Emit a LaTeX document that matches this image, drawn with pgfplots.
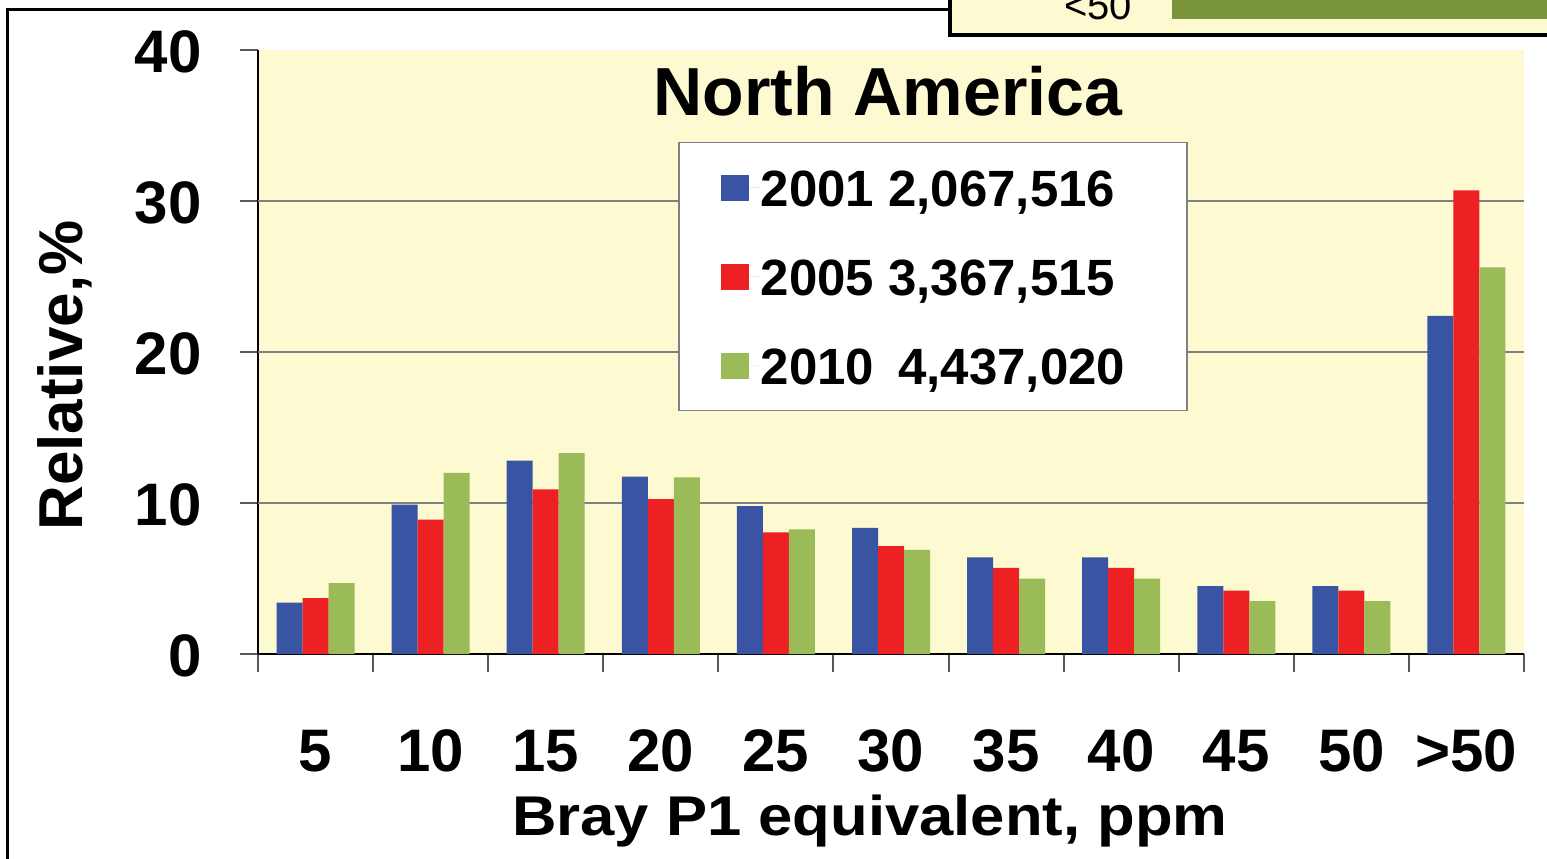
\documentclass[border=0pt]{standalone}
\usepackage{fontspec}
\setmainfont{Liberation Sans}
\newfontfamily\xlfont[FakeStretch=1.1]{Liberation Sans}
\usepackage{pgfplots}
\pgfplotsset{compat=1.18}
\definecolor{cblue}{HTML}{3A54A4}
\definecolor{cred}{HTML}{ED2024}
\definecolor{cgreen}{HTML}{9BBB59}
\definecolor{bgyellow}{HTML}{FDF9D0}
\definecolor{olivebar}{HTML}{7A943C}
\begin{document}
\begin{tikzpicture}
\path[use as bounding box] (0,0) rectangle (773.5pt,429pt);
\begin{scope}
\clip (0,0) rectangle (773.5pt,429pt);
\fill[bgyellow] (475pt,411.5pt) rectangle (773.5pt,429pt);
\fill[olivebar] (586pt,419.5pt) rectangle (773.5pt,429pt);
\node[anchor=base, font=\fontsize{20}{20}\selectfont, inner sep=0pt] at (549pt,419pt) {<50};
\draw[line width=2pt] (475pt,430pt) -- (475pt,411.5pt) -- (774pt,411.5pt);
\draw[line width=1.5pt] (3.5pt,-1pt) -- (3.5pt,424pt) -- (475pt,424pt);
\end{scope}
\begin{axis}[
  at={(129pt,102pt)}, anchor=south west,
  scale only axis, width=633pt, height=302pt,
  xmin=0, xmax=11, ymin=0, ymax=40,
  enlargelimits=false,
  axis background/.style={fill=bgyellow},
  axis x line*=bottom, axis y line*=left,
  axis line style={black, line width=1pt},
  tick align=outside,
  major tick length=9pt,
  tick style={gray!70!black, line width=1pt},
  xtick={0,1,...,11}, xticklabels={},
  extra x ticks={0.5,1.5,2.5,3.5,4.5,5.5,6.5,7.5,8.5,9.5,10.5},
  extra x tick labels={5,10,15,20,25,30,35,40,45,50,>50},
  extra x tick style={major tick length=0pt},
  ytick={0,10,20,30,40},
  extra y ticks={10,20,30}, extra y tick labels={},
  extra y tick style={ymajorgrids=true, major tick length=0pt},
  grid style={gray, line width=1pt},
  /pgf/number format/assume math mode=true,
  ticklabel style={font=\fontsize{30}{30}\selectfont\bfseries, inner sep=0pt},
  xticklabel style={anchor=base, yshift=-58.5pt},
  yticklabel style={anchor=base east, xshift=-19pt, yshift=-11pt},
  ybar=0pt, bar width=13pt,
  title={North America},
  title style={at={(axis description cs:0.4976,0.871)}, anchor=base, yshift=0pt, font=\fontsize{34}{34}\selectfont\bfseries, inner sep=0pt},
  xlabel={Bray P1 equivalent, ppm},
  xlabel style={at={(axis description cs:0.4834,-0.2997)}, anchor=base, font=\xlfont\fontsize{28}{28}\selectfont\bfseries, inner sep=0pt},
  ylabel={Relative,\%},
  ylabel style={at={(axis description cs:-0.139,0.461)}, anchor=base, font=\fontsize{31}{31}\selectfont\bfseries, inner sep=0pt},
  legend style={at={(axis description cs:0.3318,0.8477)}, anchor=north west, draw=gray, line width=0.75pt, fill=white, inner xsep=21pt, inner ysep=13pt, row sep=25.5pt, font=\fontsize{25.5}{25.5}\selectfont\bfseries, nodes={inner sep=0pt, text height=19pt, text depth=0pt}},
  legend cell align=left,
  legend image code/.code={\fill[#1] (0pt,-6.5pt) rectangle (14pt,6.5pt); \path (0pt,0pt) -- (20pt,0pt);},
]
\addplot[fill=cblue, draw=none] coordinates {(0.5,3.4) (1.5,9.9) (2.5,12.8) (3.5,11.75) (4.5,9.8) (5.5,8.35) (6.5,6.4) (7.5,6.4) (8.5,4.5) (9.5,4.5) (10.5,22.4)};
\addlegendentry{\makebox[192pt][l]{2001 2,067,516}}
\addplot[fill=cred, draw=none] coordinates {(0.5,3.7) (1.5,8.9) (2.5,10.9) (3.5,10.25) (4.5,8.05) (5.5,7.15) (6.5,5.7) (7.5,5.7) (8.5,4.2) (9.5,4.2) (10.5,30.7)};
\addlegendentry{\makebox[192pt][l]{2005 3,367,515}}
\addplot[fill=cgreen, draw=none] coordinates {(0.5,4.7) (1.5,12.0) (2.5,13.3) (3.5,11.7) (4.5,8.25) (5.5,6.9) (6.5,5.0) (7.5,5.0) (8.5,3.5) (9.5,3.5) (10.5,25.6)};
\addlegendentry{\makebox[192pt][l]{2010\hspace{5pt} 4,437,020}}
\end{axis}
\end{tikzpicture}
\end{document}
